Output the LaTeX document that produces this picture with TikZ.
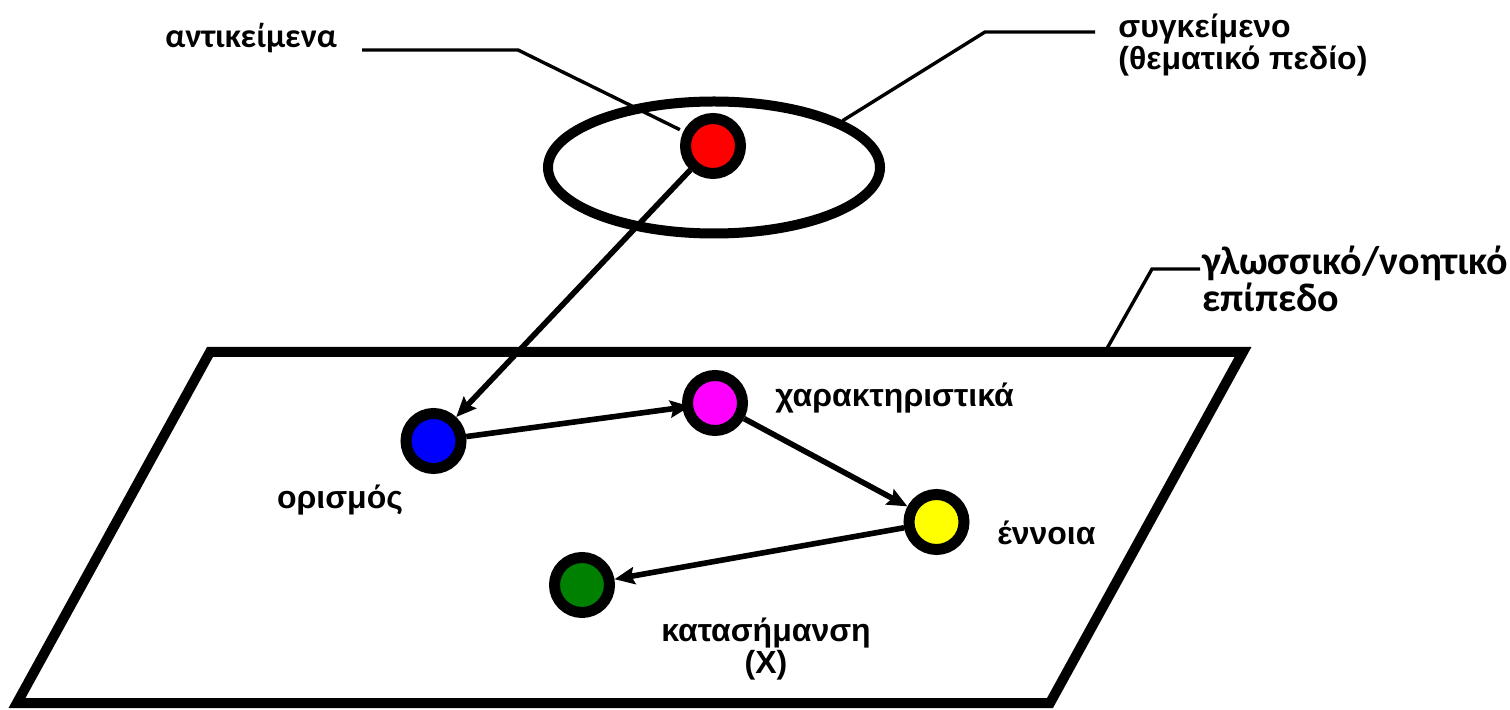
\documentclass[tikz,border=0pt]{standalone}
\usepackage{fontspec}
\setmainfont{Liberation Sans}
\newfontfamily\carl{Carlito}
\usetikzlibrary{shapes.geometric,arrows.meta}
\definecolor{dgreen}{RGB}{0,128,0}
\definecolor{mag}{RGB}{255,0,255}
\definecolor{yel}{RGB}{255,255,0}
\definecolor{rd}{RGB}{255,0,0}
\definecolor{bl}{RGB}{0,0,255}
\begin{document}
\begin{tikzpicture}[x=0.5pt,y=-0.5pt,
 dot/.style={circle,draw=black,line width=5.5pt,minimum size=27.5pt,inner sep=0pt},
 arr/.style={line width=2.8pt,-{Stealth[length=10pt,width=8.5pt,inset=1.5pt]}},
 lead/.style={line width=1.7pt},
 lbl/.style={font=\fontsize{16}{16}\selectfont\bfseries,align=center,inner sep=0pt},
 lblc/.style={font=\carl\fontsize{17}{19}\selectfont\bfseries,align=left,inner sep=0pt}]
\useasboundingbox (0,0) rectangle (1510,710);
% plane
\draw[line width=5pt] (210,352) -- (1243,352) -- (1050,703) -- (17,703) -- cycle;
\coordinate (ptop) at (1105,352);
% context ellipse
\node[ellipse,draw,line width=5pt,minimum width=166pt,minimum height=66pt,inner sep=0pt] (ctx) at (714,167.5) {};
% dots
\node[dot,fill=rd] (obj) at (713,146) {};
\node[dot,fill=bl] (def) at (433.5,441) {};
\node[dot,fill=mag] (feat) at (715,403) {};
\node[dot,fill=yel] (con) at (936.5,522) {};
\node[dot,fill=dgreen] (den) at (582,585) {};
% arrows
\draw[arr] (obj) -- (def);
\draw[arr,shorten >=-4pt] (def) -- (feat);
\draw[arr] (feat) -- (con);
\draw[arr] (con) -- (den);
% leader lines
\coordinate (a1) at (362,50);
\coordinate (a2) at (518,50);
\draw[lead,shorten >=2pt] (a1) -- (a2) -- (obj);
\coordinate (c1) at (1095,32);
\coordinate (c2) at (985,32);
\draw[lead] (c1) -- (c2) -- (ctx.20);
\coordinate (g1) at (1200,269);
\coordinate (g2) at (1152,269);
\draw[lead] (g1) -- (g2) -- (ptop);
% labels
\node[lblc,anchor=west] (tobj) at (165,38) {αντικείμενα};
\node[lbl,anchor=west,align=left] (tctx) at (1118,45) {συγκείμενο\\(θεματικό πεδίο)};
\node[lblc,anchor=west,font=\carl\fontsize{20}{18.5}\selectfont\bfseries] (tlev) at (1202,279) {γλωσσικό/νοητικό\\επίπεδο};
\node[lbl] (tdef) at (340,500) {ορισμός};
\node[lbl,anchor=west] (tfeat) at (775,398) {χαρακτηριστικά};
\node[lbl,anchor=west] (tcon) at (997,533) {έννοια};
\node[lbl] (tden) at (766,649) {κατασήμανση\\(X)};
\end{tikzpicture}
\end{document}
